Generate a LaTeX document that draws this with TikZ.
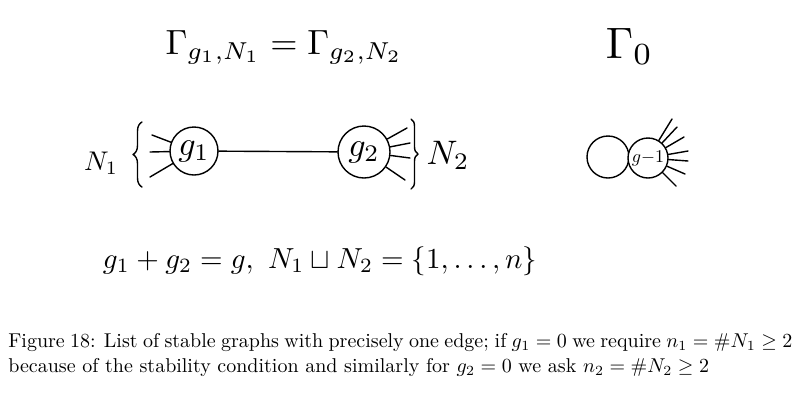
\documentclass[tikz,border=0pt]{standalone}
\usetikzlibrary{decorations.pathreplacing}
\tikzset{
  hand/.style={line width=1.4pt, line cap=round, line join=round},
  vert/.style={draw, circle, line width=1.4pt, inner sep=0pt, minimum size=#1},
  lbl/.style={inner sep=0pt},
  capt/.style={inner sep=0pt, anchor=base west, scale=2.0},
  bracehand/.style={hand, decorate, decoration={brace, amplitude=#1}},
}
\begin{document}
\begin{tikzpicture}[x=1pt,y=-1pt]
\useasboundingbox (0,0) rectangle (800,400);

% top formulas
\node[lbl, anchor=base, scale=3.5] (top) at (284,54) {$\Gamma_{g_1,N_1}=\Gamma_{g_2,N_2}$};
\node[lbl, anchor=base west, scale=4.4] (g0) at (605,58) {$\Gamma_0$};

% first graph
\node[vert=48pt] (v1) at (194,151) {};
\node[lbl, scale=3.4] (t1) at (v1) {$g_1$};
\node[vert=52pt] (v2) at (364,152) {};
\node[lbl, scale=3.4] (t2) at (v2) {$g_2$};
\draw[hand] (v1) -- (v2);

\coordinate (a1) at (152,135);
\coordinate (a2) at (150,152);
\coordinate (a3) at (150,177);
\foreach \c in {a1,a2,a3} \draw[hand] (\c) -- (v1);

\coordinate (b1) at (407,128);
\coordinate (b2) at (410,143);
\coordinate (b3) at (410,158);
\coordinate (b4) at (405,180);
\foreach \c in {b1,b2,b3,b4} \draw[hand] (v2) -- (\c);

\coordinate (lb1) at (142,187);
\coordinate (lb2) at (142,122);
\draw[bracehand=9pt] (lb1) -- (lb2);
\coordinate (rb1) at (411,119);
\coordinate (rb2) at (411,189);
\draw[bracehand=7pt] (rb1) -- (rb2);

\node[lbl, scale=2.7] (n1) at (101,163) {$N_1$};
\node[lbl, scale=3.4] (n2) at (448,155) {$N_2$};

% loop graph
\node[vert=42pt] (loop) at (608,157) {};
\node[vert=40pt, fill=white] (v3) at (648,158) {};
\node[lbl, scale=1.8] (t3) at (v3) {$g{-}1$};
\coordinate (c1) at (672,119);
\coordinate (c2) at (677,127);
\coordinate (c3) at (684,137);
\coordinate (c4) at (688,151);
\coordinate (c5) at (688,161);
\coordinate (c6) at (685,174);
\coordinate (c7) at (676,186);
\foreach \c in {c1,c2,c3,c4,c5,c6,c7} \draw[hand] (v3) -- (\c);

% bottom formula
\node[lbl, anchor=base, scale=2.9] (rel) at (320,268) {$g_1+g_2=g,\ N_1\sqcup N_2=\{1,\dots,n\}$};

% caption
\node[capt] (cap1) at (8,347) {\hbox to 392pt{Figure 18: List of stable graphs with precisely one edge; if $g_1=0$ we require $n_1=\#N_1\geq 2$}};
\node[capt] (cap2) at (8,372) {because of the stability condition and similarly for $g_2=0$ we ask $n_2=\#N_2\geq 2$};
\end{tikzpicture}
\end{document}
